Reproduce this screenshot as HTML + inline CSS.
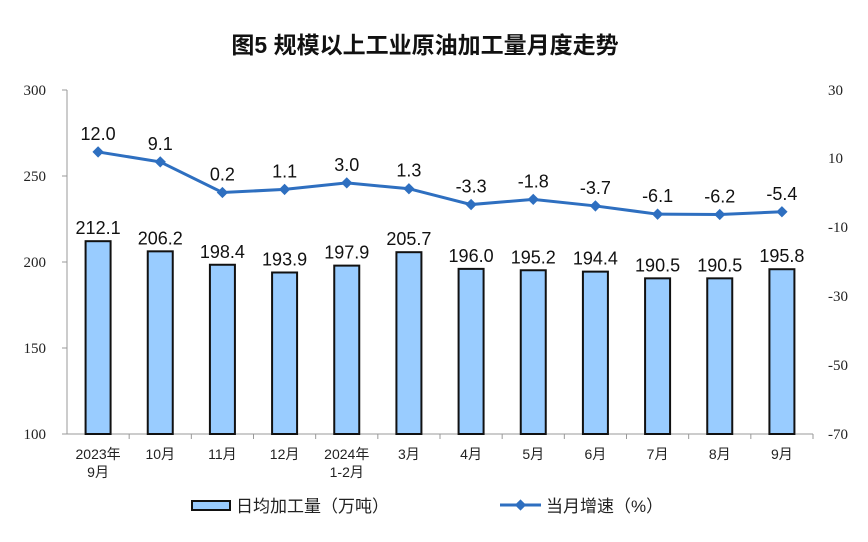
<!DOCTYPE html>
<html><head><meta charset="utf-8"><style>
body{margin:0;background:#fff}
svg{display:block}
.ax{font-family:"Liberation Serif","Noto Serif CJK SC",serif;font-size:15px;fill:#222}
.cat{font-family:"Liberation Sans","Noto Sans CJK SC",sans-serif;font-size:14px;fill:#222}
.lbl{font-family:"Liberation Sans",sans-serif;font-size:18px;fill:#111}
</style></head><body>
<svg width="868" height="542" viewBox="0 0 868 542">
<text x="425" y="53" text-anchor="middle" style="font-family:'Liberation Sans','Noto Sans CJK SC',sans-serif;font-size:23px;font-weight:bold" fill="#111">图5  规模以上工业原油加工量月度走势</text>
<g stroke="#999" stroke-width="1">
<line x1="67" y1="90" x2="67" y2="434"/>
<line x1="67" y1="434" x2="813" y2="434"/>
<line x1="62" y1="90" x2="67" y2="90"/><line x1="62" y1="176" x2="67" y2="176"/><line x1="62" y1="262" x2="67" y2="262"/><line x1="62" y1="348" x2="67" y2="348"/><line x1="62" y1="434" x2="67" y2="434"/>
</g>
<g class="ax" text-anchor="end">
<text x="46" y="95">300</text><text x="46" y="181">250</text><text x="46" y="267">200</text><text x="46" y="353">150</text><text x="46" y="439">100</text>
</g>
<g class="ax" text-anchor="start">
<text x="828" y="95">30</text><text x="828" y="163">10</text><text x="828" y="232">-10</text><text x="828" y="301">-30</text><text x="828" y="370">-50</text><text x="828" y="439">-70</text>
</g>
<g id="g"></g>
</svg>
<script>
var bars=[212.1,206.2,198.4,193.9,197.9,205.7,196.0,195.2,194.4,190.5,190.5,195.8];
var line=[12.0,9.1,0.2,1.1,3.0,1.3,-3.3,-1.8,-3.7,-6.1,-6.2,-5.4];
var cats=[["2023年","9月"],["10月"],["11月"],["12月"],["2024年","1-2月"],["3月"],["4月"],["5月"],["6月"],["7月"],["8月"],["9月"]];
var s='',w=746/12,pts=[];
for(var i=0;i<12;i++){
 var cx=67+w*(i+0.5),y=434-(bars[i]-100)*1.72;
 s+='<rect x="'+(cx-12.5)+'" y="'+y+'" width="25" height="'+(434-y)+'" fill="#99ccff" stroke="#111" stroke-width="2"/>';
 s+='<text class="lbl" x="'+cx+'" y="'+(y-7)+'" text-anchor="middle">'+bars[i].toFixed(1)+'</text>';
 if(i>0) s+='<line x1="'+(67+w*i)+'" y1="434" x2="'+(67+w*i)+'" y2="439" stroke="#999"/>';
 var ly=90+(30-line[i])*3.44;pts.push(cx+','+ly);
 s+='<text class="lbl" x="'+cx+'" y="'+(ly-12)+'" text-anchor="middle">'+line[i].toFixed(1)+'</text>';
 var c=cats[i];
 s+='<text class="cat" x="'+cx+'" y="459" text-anchor="middle">'+c[0]+'</text>';
 if(c[1]) s+='<text class="cat" x="'+cx+'" y="477" text-anchor="middle">'+c[1]+'</text>';
}
s+='<line x1="813" y1="434" x2="813" y2="439" stroke="#999"/>';
s+='<polyline points="'+pts.join(' ')+'" fill="none" stroke="#2e6fc0" stroke-width="3"/>';
pts.forEach(function(p){var a=p.split(',');s+='<rect x="'+(a[0]-4)+'" y="'+(a[1]-4)+'" width="8" height="8" fill="#2e6fc0" transform="rotate(45 '+a[0]+' '+a[1]+')"/>';});
s+='<rect x="192" y="501" width="38" height="9" fill="#99ccff" stroke="#111" stroke-width="2"/>';
s+='<text x="236" y="512" style="font-family:\'Liberation Sans\',\'Noto Sans CJK SC\',sans-serif;font-size:17px" fill="#222">日均加工量（万吨）</text>';
s+='<line x1="500" y1="505" x2="541" y2="505" stroke="#2e6fc0" stroke-width="3"/>';
s+='<rect x="516.5" y="501" width="8" height="8" fill="#2e6fc0" transform="rotate(45 520.5 505)"/>';
s+='<text x="546" y="512" style="font-family:\'Liberation Sans\',\'Noto Sans CJK SC\',sans-serif;font-size:17px" fill="#222">当月增速（%）</text>';
document.getElementById('g').innerHTML=s;
</script>
</body></html>
